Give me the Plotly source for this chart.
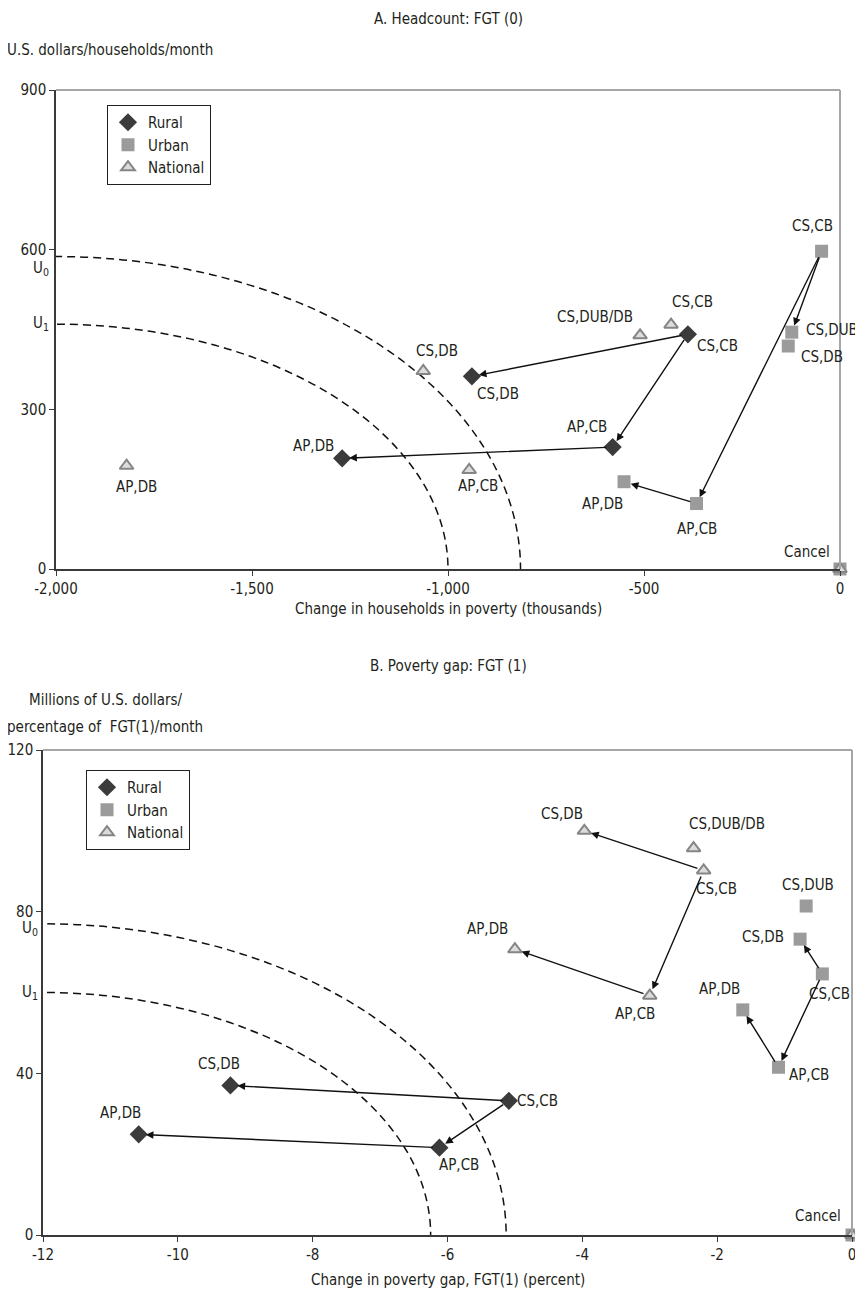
import plotly.graph_objects as go

# ---------------- data ----------------
# Panel A: Headcount FGT(0)
a_rural_labels = ["CS,CB", "CS,DB", "AP,CB", "AP,DB"]
a_rural_x = [-388, -939, -580, -1270]
a_rural_y = [441, 362, 229, 208]

a_urban_labels = ["CS,CB", "CS,DUB", "CS,DB", "AP,CB", "AP,DB", "Cancel"]
a_urban_x = [-47, -123, -132, -366, -551, 0]
a_urban_y = [597, 445, 419, 123, 164, 0]

a_nat_labels = ["CS,CB", "CS,DUB/DB", "CS,DB", "AP,CB", "AP,DB", "Cancel"]
a_nat_x = [-431, -510, -1063, -946, -1820, 0]
a_nat_y = [459, 439, 372, 186, 194, 0]

a_rural_moves = [("CS,CB", "CS,DB"), ("CS,CB", "AP,CB"), ("AP,CB", "AP,DB")]
a_urban_moves = [("CS,CB", "CS,DUB"), ("CS,CB", "AP,CB"), ("AP,CB", "AP,DB")]
a_nat_moves = []

# indifference curves (quarter ellipses centred at x-min, y=0): (x semi-axis, y semi-axis)
a_u0 = (1185, 587)
a_u1 = (1000, 460)

a_xticks = [-2000, -1500, -1000, -500, 0]
a_xtick_text = ["-2,000", "-1,500", "-1,000", "-500", "0"]
a_yticks = [0, 300, 600, 900]

# Panel B: Poverty gap FGT(1)
b_rural_labels = ["CS,CB", "CS,DB", "AP,CB", "AP,DB"]
b_rural_x = [-5.09, -9.22, -6.12, -10.58]
b_rural_y = [33.2, 37.0, 21.6, 24.9]

b_urban_labels = ["CS,CB", "CS,DUB", "CS,DB", "AP,CB", "AP,DB", "Cancel"]
b_urban_x = [-0.44, -0.68, -0.77, -1.09, -1.62, 0]
b_urban_y = [64.6, 81.4, 73.2, 41.5, 55.7, 0]

b_nat_labels = ["CS,CB", "CS,DUB/DB", "CS,DB", "AP,CB", "AP,DB", "Cancel"]
b_nat_x = [-2.2, -2.35, -3.97, -3.0, -5.0, 0]
b_nat_y = [90.2, 95.7, 100.0, 59.2, 70.7, 0]

b_rural_moves = [("CS,CB", "CS,DB"), ("CS,CB", "AP,CB"), ("AP,CB", "AP,DB")]
b_urban_moves = [("CS,CB", "CS,DB"), ("CS,CB", "AP,CB"), ("AP,CB", "AP,DB")]
b_nat_moves = [("CS,CB", "CS,DB"), ("CS,CB", "AP,CB"), ("AP,CB", "AP,DB")]

b_u0 = (6.87, 77)
b_u1 = (5.75, 60)

b_xticks = [-12, -10, -8, -6, -4, -2, 0]
b_xtick_text = ["-12", "-10", "-8", "-6", "-4", "-2", "0"]
b_yticks = [0, 40, 80, 120]

# ---------------- styles ----------------
FONT = "Noto Sans Condensed, Liberation Sans Narrow, DejaVu Sans Condensed, Liberation Sans, sans-serif"
FS = 15
TXT = "#231f20"
WIN_W, WIN_H = 863, 1297
OFF = 8                      # default page body margin
W, H = WIN_W - OFF, WIN_H - OFF

def px_x(px):
    return (px - OFF) / W

def px_y(py):
    return 1 - (py - OFF) / H

# label offsets in pixels (dx right, dy down) relative to the marker
a_rural_off = {"CS,CB": (30, 12), "CS,DB": (26, 18), "AP,CB": (-26, -20), "AP,DB": (-29, -12)}
a_urban_off = {"CS,CB": (-9, -25), "CS,DUB": (40, -2), "CS,DB": (34, 11), "AP,CB": (0, 25),
               "AP,DB": (-22, 22), "Cancel": (-33, -17)}
a_nat_off = {"CS,CB": (21, -23), "CS,DUB/DB": (-45, -18), "CS,DB": (14, -20), "AP,CB": (9, 16),
             "AP,DB": (10, 21)}
b_rural_off = {"CS,DB": (-11, -21), "AP,DB": (-18, -21), "CS,CB": (29, 0), "AP,CB": (20, 17)}
b_urban_off = {"CS,DUB": (2, -21), "CS,DB": (-37, -2), "CS,CB": (7, 20), "AP,DB": (-23, -21),
               "AP,CB": (30, 8), "Cancel": (-34, -19)}
b_nat_off = {"CS,DB": (-22, -17), "CS,DUB/DB": (33, -24), "CS,CB": (13, 19), "AP,DB": (-27, -20),
             "AP,CB": (-15, 18)}

rural_marker = dict(symbol="diamond", size=14, color="#3b3b3b", line=dict(width=0))
urban_marker = dict(symbol="square", size=13, color="#9b9b9c", line=dict(width=0))
nat_marker = dict(symbol="triangle-up", size=12, color="#dcdcdc", line=dict(width=2, color="#858585"))

# pixel geometry (window pixels) of the two plot areas
A_L, A_R, A_T, A_B = 56, 840, 90, 569
B_L, B_R, B_T, B_B = 43, 852, 750, 1235

fig = go.Figure()

def add_panel(xa, ya, legend, groups):
    for name, xs, ys, marker in groups:
        fig.add_trace(go.Scatter(x=xs, y=ys, mode="markers", name=name, marker=marker,
                                 xaxis=xa, yaxis=ya, legend=legend, cliponaxis=False,
                                 hoverinfo="skip"))

add_panel("x", "y", "legend", [("Rural", a_rural_x, a_rural_y, rural_marker),
                               ("Urban", a_urban_x, a_urban_y, urban_marker),
                               ("National", a_nat_x, a_nat_y, nat_marker)])
add_panel("x2", "y2", "legend2", [("Rural", b_rural_x, b_rural_y, rural_marker),
                                  ("Urban", b_urban_x, b_urban_y, urban_marker),
                                  ("National", b_nat_x, b_nat_y, nat_marker)])

annotations = []

def labels(xr, yr, labs, xs, ys, offs):
    for lab, x, y in zip(labs, xs, ys):
        if lab not in offs:
            continue
        dx, dy = offs[lab]
        annotations.append(dict(x=x, y=y, xref=xr, yref=yr, text=lab, showarrow=False,
                                xshift=dx, yshift=-dy, font=dict(family=FONT, size=FS, color=TXT)))

def arrows(xr, yr, labs, xs, ys, moves):
    pos = {l: (x, y) for l, x, y in zip(labs, xs, ys)}
    for s, t in moves:
        annotations.append(dict(x=pos[t][0], y=pos[t][1], ax=pos[s][0], ay=pos[s][1],
                                xref=xr, yref=yr, axref=xr, ayref=yr, text="", showarrow=True,
                                arrowhead=2, arrowsize=1.1, arrowwidth=1.4, arrowcolor="#111",
                                standoff=7, startstandoff=5))

labels("x", "y", a_rural_labels, a_rural_x, a_rural_y, a_rural_off)
labels("x", "y", a_urban_labels, a_urban_x, a_urban_y, a_urban_off)
labels("x", "y", a_nat_labels, a_nat_x, a_nat_y, a_nat_off)
arrows("x", "y", a_rural_labels, a_rural_x, a_rural_y, a_rural_moves)
arrows("x", "y", a_urban_labels, a_urban_x, a_urban_y, a_urban_moves)
labels("x2", "y2", b_rural_labels, b_rural_x, b_rural_y, b_rural_off)
labels("x2", "y2", b_urban_labels, b_urban_x, b_urban_y, b_urban_off)
labels("x2", "y2", b_nat_labels, b_nat_x, b_nat_y, b_nat_off)
arrows("x2", "y2", b_rural_labels, b_rural_x, b_rural_y, b_rural_moves)
arrows("x2", "y2", b_urban_labels, b_urban_x, b_urban_y, b_urban_moves)
arrows("x2", "y2", b_nat_labels, b_nat_x, b_nat_y, b_nat_moves)

def ptext(px, py, text, size=FS, xanchor="center", yanchor="middle"):
    annotations.append(dict(x=px_x(px), y=px_y(py), xref="paper", yref="paper", text=text,
                            showarrow=False, xanchor=xanchor, yanchor=yanchor,
                            font=dict(family=FONT, size=size, color=TXT)))

ptext(448, 19, "A. Headcount: FGT (0)")
ptext(5, 50, "U.S. dollars/households/month", xanchor="left")
ptext(448, 609, "Change in households in poverty (thousands)")
ptext(51, 268, "U<sub>0</sub>", xanchor="right")
ptext(51, 323, "U<sub>1</sub>", xanchor="right")

ptext(448, 666, "B. Poverty gap: FGT (1)")
ptext(27, 700, "Millions of U.S. dollars/", xanchor="left")
ptext(5, 727, "percentage of  FGT(1)/month", xanchor="left")
ptext(448, 1280, "Change in poverty gap, FGT(1) (percent)")
ptext(40, 928, "U<sub>0</sub>", xanchor="right")
ptext(40, 992, "U<sub>1</sub>", xanchor="right")

shapes = []
def curves(xr, yr, xmin, curves_list):
    for a, b in curves_list:
        shapes.append(dict(type="circle", xref=xr, yref=yr, x0=xmin - a, x1=xmin + a, y0=-b, y1=b,
                           line=dict(color="#111", width=1.5, dash="8px,5px"), layer="below"))

curves("x", "y", -2000, [a_u0, a_u1])
curves("x2", "y2", -12, [b_u0, b_u1])

for xr, yr in (("x domain", "y domain"), ("x2 domain", "y2 domain")):
    shapes.append(dict(type="line", xref=xr, yref=yr, x0=1, x1=1, y0=0, y1=1,
                       line=dict(color="#a6a6a6", width=2)))
    shapes.append(dict(type="line", xref=xr, yref=yr, x0=0, x1=1, y0=1, y1=1,
                       line=dict(color="#a6a6a6", width=2)))

axis_common = dict(showgrid=False, zeroline=False, showline=True, linecolor="#3a3a3a", linewidth=1.5,
                   ticks="outside", ticklen=5, tickcolor="#3a3a3a", tickwidth=1, automargin=False,
                   tickfont=dict(family=FONT, size=FS, color=TXT))

leg_common = dict(bgcolor="white", bordercolor="#231f20", borderwidth=1,
                  font=dict(family=FONT, size=FS, color=TXT), itemwidth=30,
                  tracegroupgap=0, xanchor="left", yanchor="top")

fig.update_layout(
    width=W, height=H, autosize=False,
    margin=dict(l=0, r=0, t=0, b=0, autoexpand=False),
    paper_bgcolor="white", plot_bgcolor="white",
    showlegend=True,
    xaxis=dict(axis_common, domain=[px_x(A_L), px_x(A_R)], range=[-2000, 0], tickvals=a_xticks,
               ticktext=a_xtick_text, anchor="y"),
    yaxis=dict(axis_common, domain=[px_y(A_B), px_y(A_T)], range=[0, 900], tickvals=a_yticks,
               anchor="x"),
    xaxis2=dict(axis_common, domain=[px_x(B_L), px_x(B_R)], range=[-12, 0], tickvals=b_xticks,
                ticktext=b_xtick_text, anchor="y2"),
    yaxis2=dict(axis_common, domain=[px_y(B_B), px_y(B_T)], range=[0, 120], tickvals=b_yticks,
                anchor="x2"),
    legend=dict(leg_common, x=px_x(107), y=px_y(105)),
    legend2=dict(leg_common, x=px_x(86), y=px_y(770)),
    annotations=annotations,
    shapes=shapes,
)

fig.write_html("out.html")
